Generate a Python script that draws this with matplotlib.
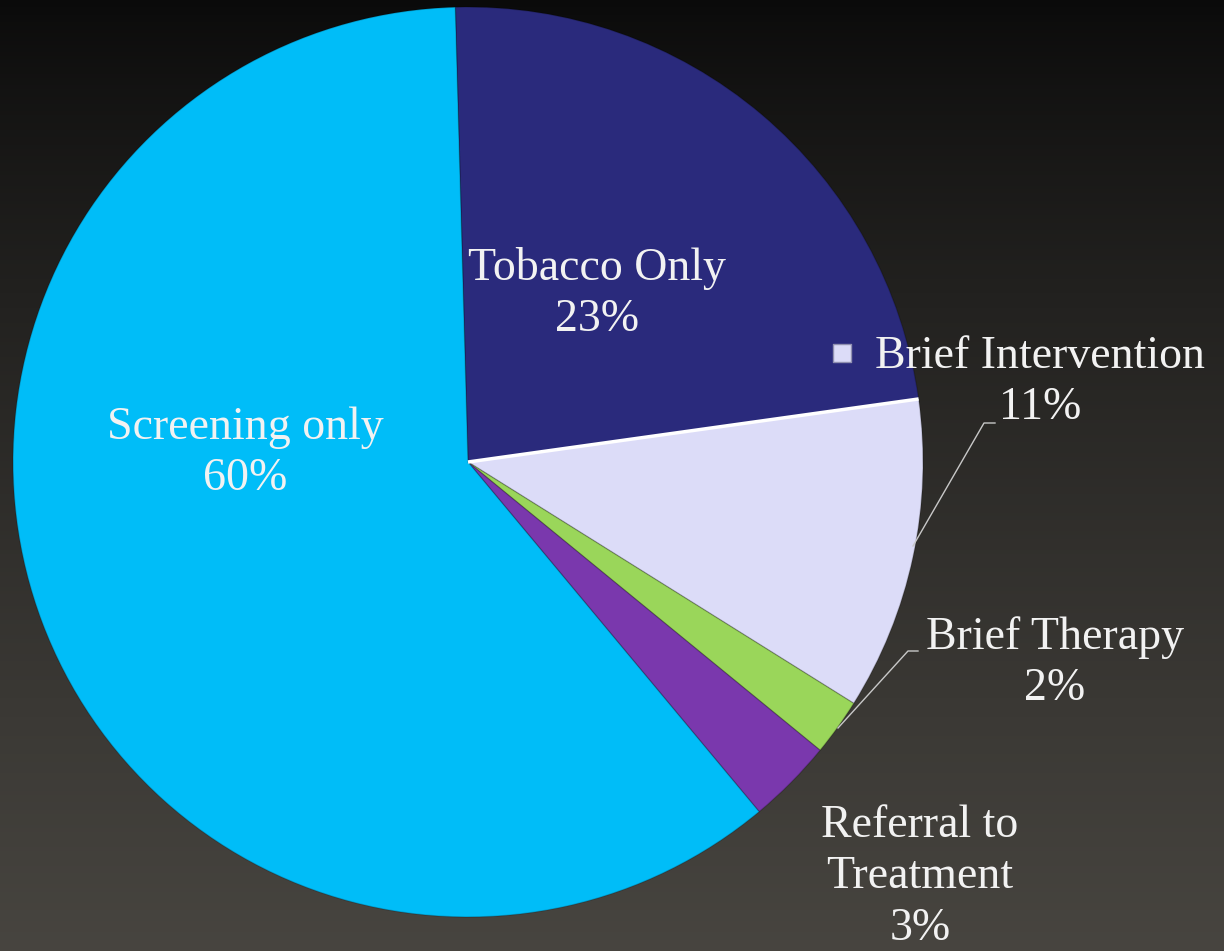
import numpy as np
import matplotlib.pyplot as plt

# data
labels = ['Tobacco Only', 'Brief Intervention', 'Brief Therapy', 'Referral to\nTreatment', 'Screening only']
values = [23, 11, 2, 3, 60]
pcts = ['23%', '11%', '2%', '3%', '60%']
colors = ['#2a2a7c', '#dcdcf8', '#9ad65a', '#7a38ad', '#00bdf8']

W, H = 1224, 951
fig = plt.figure(figsize=(W / 100, H / 100), dpi=100)

# background gradient
bg = fig.add_axes([0, 0, 1, 1])
grad = np.linspace(0, 1, 256)[:, None]
top = np.array([0.04, 0.04, 0.04])
bot = np.array([0.28, 0.27, 0.25])
img = top + (bot - top) * grad[..., None] ** 0.8
bg.imshow(img, aspect='auto', extent=[0, 1, 0, 1], origin='upper')
bg.axis('off')

ax = fig.add_axes([0, 0, 1, 1])
ax.set_aspect('equal')

cx, cy, r = 468, H - 462, 455
start = 91.6
wedges, _ = ax.pie(values, colors=colors, startangle=start, counterclock=False,
                   center=(cx, cy), radius=r, frame=True,
                   wedgeprops=dict(linewidth=1.0, edgecolor='#00000030'))
ax.set_xlim(0, W)
ax.set_ylim(0, H)
ax.axis('off')

# white highlight on the top edge of the Brief Intervention slice
a = np.radians(start - 360 * values[0] / sum(values))
ax.plot([cx, cx + r * np.cos(a)], [cy, cy + r * np.sin(a)], color='white', lw=2.5,
        solid_capstyle='butt')

fs = 33
tc = '#f2f2f2'
font = 'Liberation Serif'


def lab(x, y, s):
    ax.text(x, H - y, s, ha='center', va='center', fontsize=fs, color=tc,
            family=font, linespacing=1.27)


lab(597, 294, labels[0] + '\n' + pcts[0])
lab(1040, 382, labels[1] + '\n' + pcts[1])
lab(1055, 663, labels[2] + '\n' + pcts[2])
lab(920, 877, labels[3] + '\n' + pcts[3])
lab(245, 453, labels[4] + '\n' + pcts[4])

# legend key square before "Brief Intervention"
ax.scatter([842], [H - 353], marker='s', s=150, color=colors[1], edgecolor='#9090b0', lw=1)

# leader lines
ax.plot([995, 984, 913], [H - 423, H - 423, H - 546], color='#c8c8c8', lw=1)
ax.plot([918, 908, 838], [H - 651, H - 651, H - 728], color='#c8c8c8', lw=1)

fig.savefig('out.png', dpi=100)
